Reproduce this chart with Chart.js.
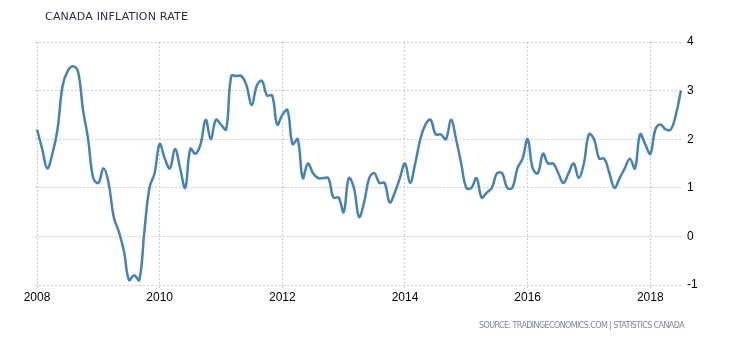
<!DOCTYPE html>
<html>
<head>
<meta charset="utf-8">
<script src="https://cdn.jsdelivr.net/npm/chart.js@4"></script>
<style>
  html, body { margin: 0; padding: 0; background: #fff; }
  #wrap { position: relative; width: 730px; height: 340px; }
  #title {
    position: absolute; left: 45px; top: 10px;
    font: 11px 'DejaVu Sans', sans-serif; color: #2a2a48; letter-spacing: 0.2px;
  }
  #source {
    position: absolute; left: 479px; top: 321px;
    font: 8px 'DejaVu Sans', sans-serif; color: #7a889c; letter-spacing: -0.6px;
  }
  canvas { position: absolute; left: 0; top: 0; }
</style>
</head>
<body>
<div id="wrap">
  <canvas id="c" width="730" height="340"></canvas>
  <div id="title">CANADA INFLATION RATE</div>
  <div id="source">SOURCE: TRADINGECONOMICS.COM | STATISTICS CANADA</div>
</div>
<script>
// Canada CPI, year-over-year %, monthly from Jan 2008 to Jul 2018
const startYear = 2008;
const rate2008 = [2.2, 1.8, 1.4, 1.7, 2.2, 3.1, 3.4, 3.5, 3.4, 2.6, 2.0, 1.2];
const rate2009 = [1.1, 1.4, 1.1, 0.4, 0.1, -0.3, -0.9, -0.8, -0.9, 0.1, 1.0, 1.3];
const rate2010 = [1.9, 1.6, 1.4, 1.8, 1.4, 1.0, 1.8, 1.7, 1.9, 2.4, 2.0, 2.4];
const rate2011 = [2.3, 2.2, 3.3, 3.3, 3.3, 3.1, 2.7, 3.1, 3.2, 2.9, 2.9, 2.3];
const rate2012 = [2.5, 2.6, 1.9, 2.0, 1.2, 1.5, 1.3, 1.2, 1.2, 1.2, 0.8, 0.8];
const rate2013 = [0.5, 1.2, 1.0, 0.4, 0.7, 1.2, 1.3, 1.1, 1.1, 0.7, 0.9, 1.2];
const rate2014 = [1.5, 1.1, 1.5, 2.0, 2.3, 2.4, 2.1, 2.1, 2.0, 2.4, 2.0, 1.5];
const rate2015 = [1.0, 1.0, 1.2, 0.8, 0.9, 1.0, 1.3, 1.3, 1.0, 1.0, 1.4, 1.6];
const rate2016 = [2.0, 1.4, 1.3, 1.7, 1.5, 1.5, 1.3, 1.1, 1.3, 1.5, 1.2, 1.5];
const rate2017 = [2.1, 2.0, 1.6, 1.6, 1.3, 1.0, 1.2, 1.4, 1.6, 1.4, 2.1, 1.9];
const rate2018 = [1.7, 2.2, 2.3, 2.2, 2.2, 2.5, 3.0];

const yTicks = [-1, 0, 1, 2, 3, 4];
const yearTickStep = 2;

const rates = [].concat(rate2008, rate2009, rate2010, rate2011, rate2012, rate2013,
                        rate2014, rate2015, rate2016, rate2017, rate2018);
const points = rates.map((v, i) => ({ x: i, y: v }));

const GRID = '#cccccc';

new Chart(document.getElementById('c'), {
  type: 'line',
  data: {
    datasets: [{
      data: points,
      borderColor: '#4682b4',
      borderWidth: 2.5,
      pointRadius: 0,
      tension: 0.4,
      fill: false,
    }]
  },
  options: {
    responsive: false,
    animation: false,
    layout: { padding: { left: 35, top: 42, right: 0, bottom: 0 } },
    plugins: { legend: { display: false }, tooltip: { enabled: false } },
    scales: {
      x: {
        type: 'linear',
        min: -0.4,
        max: 126.4,
        afterBuildTicks: s => {
          s.ticks = [];
          for (let y = startYear; y <= startYear + 10; y += yearTickStep) s.ticks.push({ value: (y - startYear) * 12 });
        },
        afterFit: s => { s.height = 55; },
        grid: { color: GRID, borderDash: [2, 2], drawTicks: true, tickLength: 3 },
        border: { display: false, dash: [2, 2] },
        ticks: {
          color: '#000',
          padding: 2,
          font: { family: "'Liberation Sans', Arial, sans-serif", size: 12 },
          callback: v => String(startYear + v / 12),
        },
      },
      y: {
        position: 'right',
        min: yTicks[0],
        max: yTicks[yTicks.length - 1],
        afterBuildTicks: s => { s.ticks = yTicks.map(v => ({ value: v })); },
        afterFit: s => { s.width = 47; },
        grid: { color: GRID, drawTicks: false },
        border: { display: false, dash: [2, 2] },
        ticks: {
          color: '#000',
          padding: 4,
          font: { family: "'Liberation Sans', Arial, sans-serif", size: 12 },
        },
      }
    }
  }
});
</script>
</body>
</html>
